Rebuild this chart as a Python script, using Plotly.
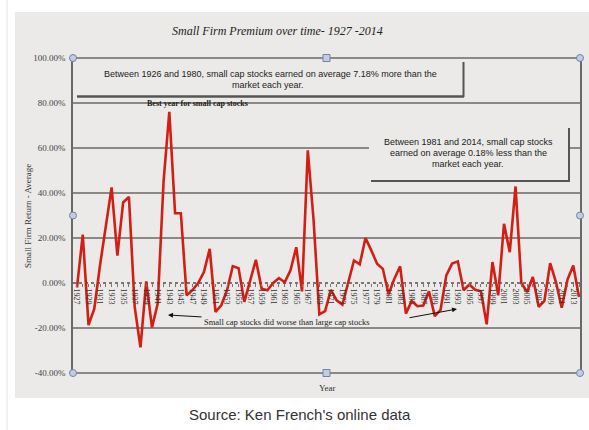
import plotly.graph_objects as go

# ---------------- data ----------------
years = list(range(1927, 2015))
premium = [
    -2.0, 21.5, -18.7, -11.4, 8.0, 26.0, 42.5, 12.2, 35.8, 38.3,      # 1927-1936
    -10.6, -28.6, 0.7, -19.8, -9.0, 45.0, 76.1, 31.0, 31.0, -5.5,     # 1937-1946
    -3.2, 0.0, 4.9, 15.2, -12.8, -9.9, -3.2, 7.5, 6.6, -8.4,          # 1947-1956
    1.0, 10.3, -2.5, -3.2, 0.0, 2.2, 0.3, 5.6, 15.9, -3.7,            # 1957-1966
    59.0, 28.0, -13.9, -12.5, -3.0, -7.7, -9.6, -0.3, 10.0, 8.3,      # 1967-1976
    20.0, 14.5, 8.6, 6.3, -5.0, 1.9, 7.4, -13.6, -8.0, -10.3,         # 1977-1986
    -10.0, -3.7, -14.7, -12.0, 3.4, 8.6, 9.6, -3.2, -0.7, -3.0,       # 1987-1996
    -3.7, -18.4, 9.3, -5.5, 26.3, 13.7, 42.9, 0.0, -4.0, 2.7,         # 1997-2006
    -10.6, -8.0, 8.8, 0.4, -11.0, 1.5, 7.8, -6.2,                     # 2007-2014
]
y_ticks = [-40, -20, 0, 20, 40, 60, 80, 100]
y_tick_labels = [f"{v:.2f}%" for v in y_ticks]
x_tick_years = list(range(1927, 2014, 2))
x_tick_labels = [str(y) for y in x_tick_years]

# ---------------- geometry helpers ----------------
W, H = 589, 430
L, R, T, B = 73, 9, 58, 57
PW, PH = W - L - R, H - T - B
Y_MIN, Y_MAX = -40, 100


def px(x):
    return (x - L) / PW


def py(y):
    return (H - B - y) / PH


CARD = "#ebeae8"
GRID = "#6b6764"
SERIF = "Liberation Serif"
SANS = "Liberation Sans"

fig = go.Figure()
fig.add_trace(go.Scatter(
    x=years, y=premium, mode="lines",
    line=dict(color="#d11f16", width=2.6),
    hoverinfo="skip", showlegend=False,
))

shapes = []
shapes.append(dict(type="line", xref="paper", yref="paper", x0=px(7), x1=px(7),
                   y0=py(0), y1=py(430), line=dict(color="#e2e2e2", width=1), layer="below"))
shapes.append(dict(type="rect", xref="paper", yref="paper", x0=px(15), x1=px(600),
                   y0=py(398), y1=py(12), fillcolor=CARD, line=dict(width=0), layer="below"))
for v in y_ticks:
    gy = (v - Y_MIN) / (Y_MAX - Y_MIN)
    if v == 0:
        shapes.append(dict(type="line", xref="paper", yref="paper", x0=0, x1=1, y0=gy, y1=gy,
                           line=dict(color="#7a7673", width=2, dash="dot"), layer="below"))
    else:
        shapes.append(dict(type="line", xref="paper", yref="paper", x0=0, x1=1, y0=gy, y1=gy,
                           line=dict(color=GRID, width=1.5), layer="below"))
# text box 1
shapes.append(dict(type="rect", xref="paper", yref="paper", x0=px(77), x1=px(463),
                   y0=py(96), y1=py(62), fillcolor=CARD, line=dict(width=0), layer="below"))
shapes.append(dict(type="line", xref="paper", yref="paper", x0=px(77), x1=px(464),
                   y0=py(96.5), y1=py(96.5), line=dict(color="#555", width=2.5), layer="below"))
shapes.append(dict(type="line", xref="paper", yref="paper", x0=px(463.5), x1=px(463.5),
                   y0=py(97), y1=py(62), line=dict(color="#555", width=2), layer="below"))
# text box 2
shapes.append(dict(type="rect", xref="paper", yref="paper", x0=px(369), x1=px(569),
                   y0=py(181), y1=py(127), fillcolor=CARD, line=dict(width=0), layer="below"))
shapes.append(dict(type="line", xref="paper", yref="paper", x0=px(371), x1=px(570),
                   y0=py(181), y1=py(181), line=dict(color="#555", width=2), layer="below"))
shapes.append(dict(type="line", xref="paper", yref="paper", x0=px(569), x1=px(569),
                   y0=py(182), y1=py(128), line=dict(color="#555", width=2), layer="below"))

handle_pts = [(0, 1, "circle"), (0.5, 1, "rect"), (1, 1, "circle"),
              (0, 0.5, "circle"), (1, 0.5, "circle"),
              (0, 0, "circle"), (0.5, 0, "rect"), (1, 0, "circle")]
for hx, hy, kind in handle_pts:
    shapes.append(dict(type=kind, xref="paper", yref="paper", xsizemode="pixel", ysizemode="pixel",
                       xanchor=hx, yanchor=hy, x0=-3.5, x1=3.5, y0=-3.5, y1=3.5,
                       fillcolor="#c3cce0", line=dict(color="#7382aa", width=1), layer="above"))


def text(t, x, y, size, family, color="#222", **kw):
    d = dict(text=t, xref="paper", yref="paper", x=px(x), y=py(y), showarrow=False,
             xanchor="center", yanchor="middle", font=dict(family=family, size=size, color=color))
    d.update(kw)
    return d


ann = [
    text("<i>Small Firm Premium over time- 1927 -2014</i>", 277, 31, 12, SERIF),
    text("Between 1926 and 1980, small cap stocks earned on average 7.18% more than the", 270, 74, 9, SANS),
    text("market each year.", 268, 85, 9, SANS),
    text("Between 1981 and 2014, small cap stocks", 468, 142, 9, SANS),
    text("earned on average 0.18% less than the", 468, 153, 9, SANS),
    text("market each year.", 468, 164, 9, SANS),
    text("<b>Best year for small cap stocks</b>", 197, 103, 8, SERIF),
    text("Small cap stocks did worse than large cap stocks", 287, 322, 8.5, SERIF),
    text("Small Firm Return - Average", 28, 216, 9, SERIF, color="#333", textangle=-90),
    text("Year", 327, 388, 9, SERIF, color="#333"),
    text("Source: Ken French's online data", 300, 414, 15, SANS, color="#333"),
    dict(text="", xref="paper", yref="paper", x=px(168), y=py(315), ax=35, ay=2,
         showarrow=True, arrowhead=2, arrowsize=1, arrowwidth=1, arrowcolor="#111"),
    dict(text="", xref="paper", yref="paper", x=px(457), y=py(309), ax=-49, ay=9,
         showarrow=True, arrowhead=2, arrowsize=1, arrowwidth=1, arrowcolor="#111"),
]

fig.update_layout(
    width=W, height=H,
    margin=dict(l=L, r=R, t=T, b=B, pad=0),
    paper_bgcolor="white", plot_bgcolor="rgba(0,0,0,0)",
    shapes=shapes, annotations=ann, showlegend=False,
    xaxis=dict(range=[1926.31, 2014.17], anchor="free", position=(0 - Y_MIN) / (Y_MAX - Y_MIN),
               tickmode="array", tickvals=x_tick_years, ticktext=x_tick_labels, tickangle=90,
               tickfont=dict(family=SERIF, size=8, color="#333"), showgrid=False, zeroline=False,
               showline=False, ticks="outside", ticklen=3, tickcolor="#7a7673",
               minor=dict(dtick=1, tick0=1927, ticks="outside", ticklen=3, tickcolor="#7a7673"),
               automargin=False, fixedrange=True),
    yaxis=dict(range=[Y_MIN, Y_MAX], tickmode="array", tickvals=y_ticks, ticktext=y_tick_labels,
               tickfont=dict(family=SERIF, size=9, color="#444"), showgrid=False, zeroline=False,
               showline=True, linecolor=GRID, linewidth=1.5, mirror=True, ticks="",
               ticklabelstandoff=4, automargin=False, fixedrange=True),
)

fig.write_html("out.html")
